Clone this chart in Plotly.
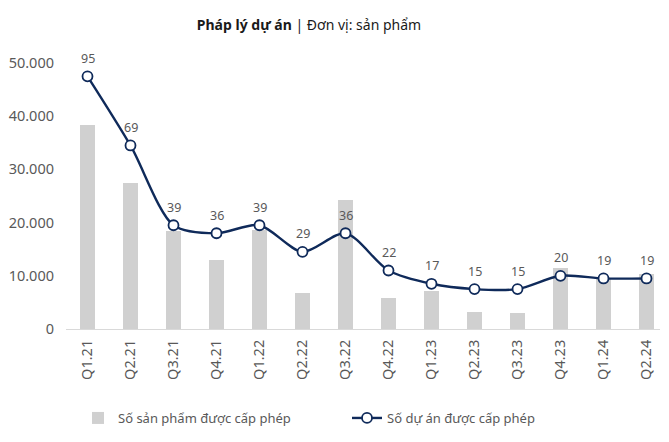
import plotly.graph_objects as go

quarters = ["Q1.21", "Q2.21", "Q3.21", "Q4.21", "Q1.22", "Q2.22", "Q3.22",
            "Q4.22", "Q1.23", "Q2.23", "Q3.23", "Q4.23", "Q1.24", "Q2.24"]
products = [38300, 27500, 18500, 13000, 18700, 6700, 24300,
            5900, 7100, 3200, 3000, 11500, 9500, 10300]
projects = [95, 69, 39, 36, 39, 29, 36, 22, 17, 15, 15, 20, 19, 19]

FONT = "Noto Sans"
GRAY = "#595959"
NAVY = "#0f2a5a"

# page body has an 8px default margin -> figure is sized to fit the window exactly
W, H = 652, 425
L, R, T, B = 58, 0, 55, 104
plot_w = W - L - R

fig = go.Figure()
fig.add_trace(go.Bar(
    x=quarters, y=products, name="Số sản phẩm được cấp phép",
    marker=dict(color="#d0d0d0", line=dict(width=0)), width=0.37,
    yaxis="y", legend="legend",
))
fig.add_trace(go.Scatter(
    x=quarters, y=projects, name="Số dự án được cấp phép",
    mode="lines+markers", line=dict(color=NAVY, width=2.4, shape="spline", smoothing=0.8),
    marker=dict(size=10, color="white", line=dict(color=NAVY, width=1.8)),
    yaxis="y2", cliponaxis=False, legend="legend2",
))

for q, v in zip(quarters, projects):
    fig.add_annotation(
        x=q, y=v, xref="x", yref="y2", text=str(v), showarrow=False,
        yanchor="middle", yshift=18,
        font=dict(size=12.5, color=GRAY, family=FONT),
    )

leg_y = -(410 - (H - B)) / (H - B - T)

fig.update_layout(
    width=W, height=H,
    margin=dict(l=L, r=R, t=T, b=B, autoexpand=False),
    paper_bgcolor="white", plot_bgcolor="white",
    separators=",.",
    font=dict(family=FONT, color=GRAY, size=13),
    title=dict(
        text="<b>Pháp lý dự án</b> | Đơn vị: sản phẩm",
        x=301 / W, xanchor="center", y=1 - 17 / H, yanchor="middle",
        font=dict(size=14, color="#1a1a1a", family=FONT),
    ),
    xaxis=dict(
        type="category", range=[-0.5, -0.5 + plot_w / 43], tickangle=-90,
        showline=True, linecolor="#d9d9d9", linewidth=1,
        showgrid=False, ticks="", tickfont=dict(size=14.5, color=GRAY),
        automargin=False, ticklabelstandoff=4,
    ),
    yaxis=dict(
        range=[0, 50000], tickvals=[0, 10000, 20000, 30000, 40000, 50000],
        tickformat=",d", showgrid=False, zeroline=False, showline=False,
        tickfont=dict(size=14.5, color=GRAY), ticks="", ticklabelstandoff=11,
        automargin=False,
    ),
    yaxis2=dict(
        range=[0, 100], overlaying="y", side="right", visible=False,
    ),
    legend=dict(
        orientation="h", x=(70 - L) / plot_w, xanchor="left", y=leg_y, yanchor="middle",
        font=dict(size=13, color=GRAY), itemwidth=30,
    ),
    legend2=dict(
        orientation="h", x=(339 - L) / plot_w, xanchor="left", y=leg_y, yanchor="middle",
        font=dict(size=13, color=GRAY), itemwidth=30,
    ),
    showlegend=True,
    bargap=0,
)

fig.write_html("out.html")
